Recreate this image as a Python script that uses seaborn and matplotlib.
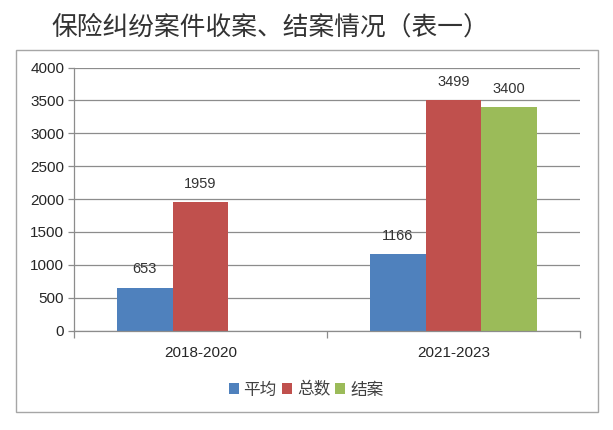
import numpy as np
import pandas as pd
import seaborn as sns
import matplotlib.pyplot as plt
from matplotlib.patches import Rectangle

# Data
periods = ["2018-2020", "2021-2023"]
series = ["平均", "总数", "结案"]
avg_vals = [653, 1166]
total_vals = [1959, 3499]
closed_vals = [np.nan, 3400]
colors = ["#4F81BD", "#C0504D", "#9BBB59"]

df = pd.DataFrame({
    "period": periods * 3,
    "series": [series[0]] * 2 + [series[1]] * 2 + [series[2]] * 2,
    "value": avg_vals + total_vals + closed_vals,
})

sns.set_theme(style="white")
plt.rcParams["font.family"] = ["Noto Sans CJK SC", "DejaVu Sans"]

fig = plt.figure(figsize=(6.13, 4.30), dpi=100)
ax = fig.add_axes([74 / 613, 1 - 330.5 / 430, (580 - 74) / 613, (330.5 - 67.5) / 430])

sns.barplot(data=df, x="period", y="value", hue="series", hue_order=series,
            order=periods, palette=colors, width=0.66, errorbar=None,
            saturation=1, ax=ax, linewidth=0)

# value labels
for cont in ax.containers:
    labels = ["" if np.isnan(v) else f"{int(v)}" for v in cont.datavalues]
    ax.bar_label(cont, labels=labels, padding=8, fontsize=10.5, color="#333333",
                 family=["Liberation Sans", "DejaVu Sans"])

ax.set_ylim(0, 4000)
ax.set_xlim(-0.5, 1.5)
ax.set_yticks(range(0, 4001, 500))
ax.yaxis.grid(True, color="#8c8c8c", linewidth=0.9)
ax.set_axisbelow(True)
ax.set_xlabel("")
ax.set_ylabel("")

for side in ["top", "right"]:
    ax.spines[side].set_visible(False)
for side in ["left", "bottom"]:
    ax.spines[side].set_color("#8c8c8c")
    ax.spines[side].set_linewidth(0.9)

ax.tick_params(axis="y", direction="out", length=4, width=0.9, color="#8c8c8c",
               pad=3, labelsize=11, labelcolor="#262626", left=True)
ax.set_xticks([-0.5, 0.5, 1.5], minor=True)
ax.tick_params(axis="x", which="minor", direction="out", length=5, width=0.9,
               color="#8c8c8c", bottom=True)
ax.tick_params(axis="x", which="major", length=0, pad=11, labelsize=11,
               labelcolor="#262626")
for lbl in ax.get_xticklabels() + ax.get_yticklabels():
    lbl.set_family(["Liberation Sans", "DejaVu Sans"])

# legend
handles, labels = ax.get_legend_handles_labels()
ax.legend_.remove()
fig.legend(handles, labels, loc="center", bbox_to_anchor=(306 / 613, 1 - 390 / 430),
           ncol=3, frameon=False, handlelength=0.6, handleheight=0.6,
           handletextpad=0.3, columnspacing=0.3, fontsize=12,
           labelcolor="#404040")

# title and outer frame
fig.text(270 / 613, 1 - 28 / 430, "保险纠纷案件收案、结案情况（表一）", ha="center",
         va="center", fontsize=18.5, color="#333333")
fig.patches.append(Rectangle((16 / 613, 1 - 412 / 430), (598 - 16) / 613, (412 - 50) / 430,
                             transform=fig.transFigure, fill=False,
                             edgecolor="#a6a6a6", linewidth=1))

fig.savefig("out.png", dpi=100)
